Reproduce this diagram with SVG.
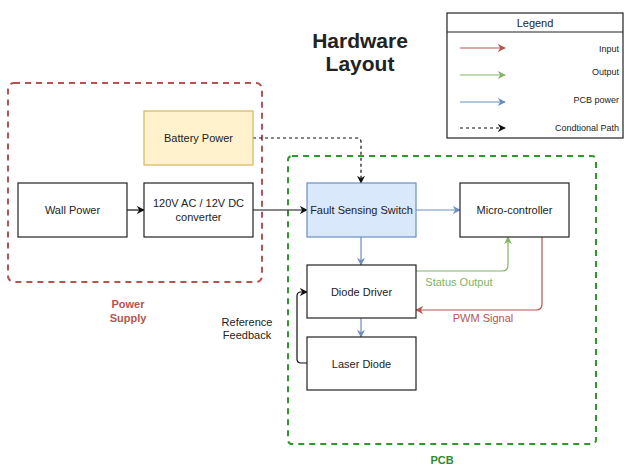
<svg xmlns="http://www.w3.org/2000/svg" width="624" height="465" viewBox="0 0 624 465">
  <style>
    text { font-family: "Liberation Sans", Arial, sans-serif; fill: #222; }
    .node rect { stroke: #222; stroke-width: 1.2; fill: #fff; }
    .lbl { font-size: 11px; text-anchor: middle; dominant-baseline: central; }
    .zone { fill: none; stroke-width: 2; stroke-dasharray: 6 5; }
    .wire { fill: none; stroke-width: 1.2; }
    .blk { stroke: #111; }
    .red { stroke: #b85450; }
    .grn { stroke: #82b366; }
    .blu { stroke: #6c8ebf; }
    .leg { font-size: 9px; text-anchor: end; dominant-baseline: central; }
  </style>
  <defs>
    <marker id="ah-blk" viewBox="0 0 10 10" refX="9" refY="5" markerWidth="8" markerHeight="8" markerUnits="userSpaceOnUse" orient="auto">
      <path d="M0,0 L10,5 L0,10 L3,5 Z" fill="#111"/>
    </marker>
    <marker id="ah-red" viewBox="0 0 10 10" refX="9" refY="5" markerWidth="8" markerHeight="8" markerUnits="userSpaceOnUse" orient="auto">
      <path d="M0,0 L10,5 L0,10 L3,5 Z" fill="#b85450"/>
    </marker>
    <marker id="ah-grn" viewBox="0 0 10 10" refX="9" refY="5" markerWidth="8" markerHeight="8" markerUnits="userSpaceOnUse" orient="auto">
      <path d="M0,0 L10,5 L0,10 L3,5 Z" fill="#82b366"/>
    </marker>
    <marker id="ah-blu" viewBox="0 0 10 10" refX="9" refY="5" markerWidth="8" markerHeight="8" markerUnits="userSpaceOnUse" orient="auto">
      <path d="M0,0 L10,5 L0,10 L3,5 Z" fill="#6c8ebf"/>
    </marker>
  </defs>

  <rect width="624" height="465" fill="#fff"/>

  <!-- title -->
  <g id="title">
    <text x="360" y="40" font-size="21" font-weight="bold" text-anchor="middle" dominant-baseline="central" fill="#111">Hardware</text>
    <text x="360" y="63" font-size="21" font-weight="bold" text-anchor="middle" dominant-baseline="central" fill="#111">Layout</text>
  </g>

  <!-- grouping zones -->
  <g id="power-supply-zone">
    <rect class="zone" x="8" y="83" width="254" height="199" rx="6" stroke="#b85450"/>
    <text x="128" y="304" font-size="11" font-weight="bold" text-anchor="middle" dominant-baseline="central" style="fill:#b85450">Power</text>
    <text x="128" y="318" font-size="11" font-weight="bold" text-anchor="middle" dominant-baseline="central" style="fill:#b85450">Supply</text>
  </g>
  <g id="pcb-zone">
    <rect class="zone" x="288" y="156" width="308" height="288" rx="4" stroke="#2e9a2e"/>
    <text x="442" y="460" font-size="11" font-weight="bold" text-anchor="middle" dominant-baseline="central" style="fill:#2e8b2e">PCB</text>
  </g>

  <!-- connectors -->
  <g id="connectors">
    <line class="wire blk" x1="127" y1="210" x2="144" y2="210" marker-end="url(#ah-blk)"/>
    <line class="wire blk" x1="253" y1="210" x2="307" y2="210" marker-end="url(#ah-blk)"/>
    <path class="wire blk" d="M253,138 H357 Q361,138 361,142 V183" stroke-dasharray="3 3" marker-end="url(#ah-blk)"/>
    <line class="wire blu" x1="416" y1="210" x2="460" y2="210" marker-end="url(#ah-blu)"/>
    <line class="wire blu" x1="361" y1="237" x2="361" y2="265" marker-end="url(#ah-blu)"/>
    <line class="wire blu" x1="361" y1="318" x2="361" y2="337" marker-end="url(#ah-blu)"/>
    <path class="wire grn" d="M416,271 H502 Q508,271 508,265 V237" marker-end="url(#ah-grn)"/>
    <path class="wire red" d="M542,237 V304 Q542,310 536,310 H416" marker-end="url(#ah-red)"/>
    <path class="wire blk" d="M307,363 H301 Q297,363 297,359 V296 Q297,292 301,292 H307" marker-end="url(#ah-blk)"/>
    <text x="459" y="282" font-size="11" text-anchor="middle" dominant-baseline="central" style="fill:#82b366">Status Output</text>
    <text x="483" y="318" font-size="11" text-anchor="middle" dominant-baseline="central" style="fill:#b85450">PWM Signal</text>
    <text x="247" y="322" class="lbl">Reference</text>
    <text x="247" y="335" class="lbl">Feedback</text>
  </g>

  <!-- nodes -->
  <g id="battery-power" class="node">
    <rect x="144" y="111" width="109" height="54" style="fill:#fff2cc;stroke:#d6b656"/>
    <text x="198.5" y="138" class="lbl">Battery Power</text>
  </g>
  <g id="wall-power" class="node">
    <rect x="18" y="183" width="109" height="54"/>
    <text x="72.5" y="210" class="lbl">Wall Power</text>
  </g>
  <g id="converter" class="node">
    <rect x="144" y="183" width="109" height="54"/>
    <text x="198.5" y="203" class="lbl">120V AC / 12V DC</text>
    <text x="198.5" y="217" class="lbl">converter</text>
  </g>
  <g id="fault-sensing-switch" class="node">
    <rect x="307" y="183" width="109" height="54" style="fill:#dae8fc;stroke:#6c8ebf"/>
    <text x="361.5" y="210" class="lbl">Fault Sensing Switch</text>
  </g>
  <g id="micro-controller" class="node">
    <rect x="460" y="183" width="109" height="54"/>
    <text x="514.5" y="210" class="lbl">Micro-controller</text>
  </g>
  <g id="diode-driver" class="node">
    <rect x="307" y="265" width="109" height="53"/>
    <text x="361.5" y="292" class="lbl">Diode Driver</text>
  </g>
  <g id="laser-diode" class="node">
    <rect x="307" y="337" width="109" height="53"/>
    <text x="361.5" y="364" class="lbl">Laser Diode</text>
  </g>

  <!-- legend -->
  <g id="legend">
    <rect x="447" y="13" width="176" height="125" fill="#fff" stroke="#222" stroke-width="1.2"/>
    <line x1="447" y1="32" x2="623" y2="32" stroke="#222" stroke-width="1.2"/>
    <text x="535" y="22.5" font-size="11" text-anchor="middle" dominant-baseline="central">Legend</text>
    <line class="wire red" x1="460" y1="48" x2="505" y2="48" marker-end="url(#ah-red)"/>
    <line class="wire grn" x1="460" y1="75" x2="505" y2="75" marker-end="url(#ah-grn)"/>
    <line class="wire blu" x1="460" y1="102" x2="505" y2="102" marker-end="url(#ah-blu)"/>
    <line class="wire blk" x1="460" y1="128" x2="505" y2="128" stroke-dasharray="3 3" marker-end="url(#ah-blk)"/>
    <text x="619" y="49" class="leg">Input</text>
    <text x="619" y="72" class="leg">Output</text>
    <text x="619" y="100" class="leg">PCB power</text>
    <text x="619" y="128" class="leg">Condtional Path</text>
  </g>
</svg>
